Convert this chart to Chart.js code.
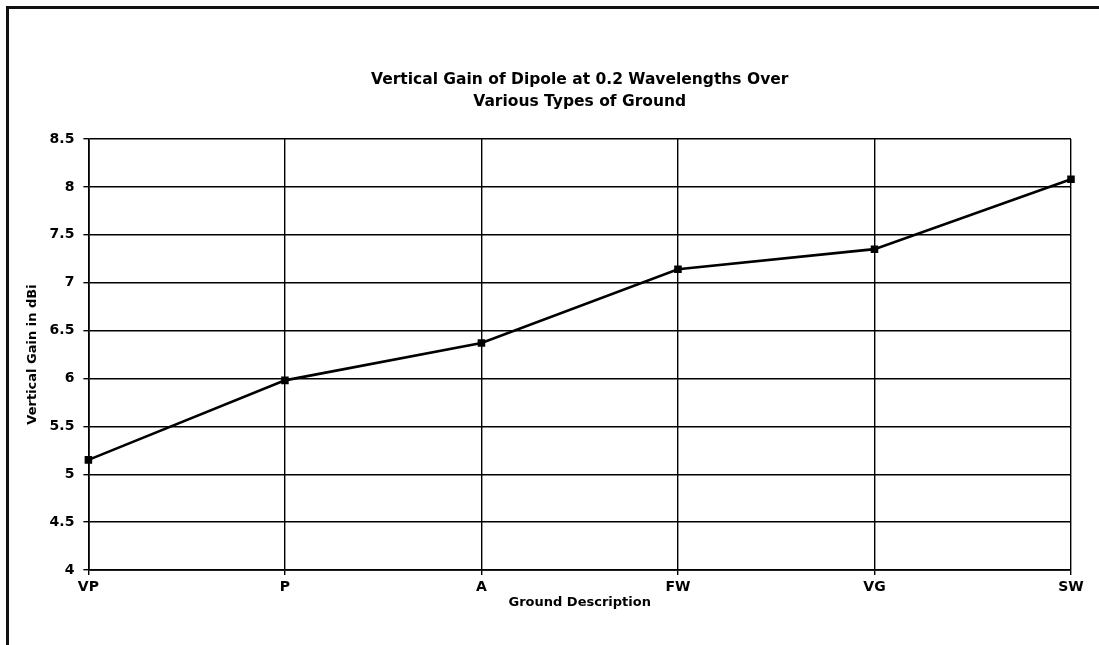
<!DOCTYPE html>
<html>
<head>
<meta charset="utf-8">
<script src="https://cdn.jsdelivr.net/npm/chart.js@4.4.1/dist/chart.umd.min.js"></script>
<style>
  html, body { margin: 0; padding: 0; background: #fff; }
  body { width: 1099px; height: 645px; position: relative; overflow: hidden; }
  #frame { position: absolute; left: 6px; top: 6px; width: 1093px; height: 639px;
           border-left: 3px solid #111; border-top: 3px solid #111; box-sizing: border-box; }
  #c { position: absolute; left: 0; top: 0; }
</style>
</head>
<body>
<div id="frame"><canvas id="c" width="1090" height="636"></canvas></div>
<script>
const categories = ["VP", "P", "A", "FW", "VG", "SW"];
const gainValues = [5.15, 5.98, 6.37, 7.14, 7.35, 8.08];
const titleLines = ["Vertical Gain of Dipole at 0.2 Wavelengths Over", "Various Types of Ground"];
const xAxisTitle = "Ground Description";
const yAxisTitle = "Vertical Gain in dBi";
const yTickLabels = ["4", "4.5", "5", "5.5", "6", "6.5", "7", "7.5", "8", "8.5"];
const yMin = 4, yMax = 8.5, yStep = 0.5;

const FONT = "'DejaVu Sans', 'Liberation Sans', Arial, sans-serif";

new Chart(document.getElementById('c'), {
  type: 'line',
  data: {
    labels: categories,
    datasets: [{
      label: yAxisTitle,
      data: gainValues,
      borderColor: '#000',
      backgroundColor: '#000',
      borderWidth: 2.6,
      pointStyle: 'rect',
      pointRadius: 3.5,
      pointBackgroundColor: '#000',
      pointBorderColor: '#000',
      tension: 0,
      fill: false
    }]
  },
  options: {
    responsive: false,
    animation: false,
    layout: { padding: { left: 16, right: 28, top: 0, bottom: 36 } },
    plugins: {
      legend: { display: false },
      tooltip: { enabled: false },
      title: {
        display: true,
        text: titleLines,
        fullSize: false,
        color: '#000',
        font: { family: FONT, size: 15.5, weight: 'bold', lineHeight: 1.42 },
        padding: { top: 60, bottom: 26 }
      }
    },
    scales: {
      x: {
        offset: false,
        grid: { color: '#000', lineWidth: 1.4, tickLength: 5, drawOnChartArea: true },
        border: { color: '#000', width: 1.7 },
        ticks: { color: '#000', font: { family: FONT, size: 14, weight: 'bold', lineHeight: 1 }, padding: 5, maxRotation: 0 },
        title: { display: true, text: xAxisTitle, color: '#000',
                 font: { family: FONT, size: 13, weight: 'bold', lineHeight: 1 }, padding: { top: -3, bottom: 0 } }
      },
      y: {
        min: yMin, max: yMax,
        grid: { color: '#000', lineWidth: 1.4, tickLength: 5 },
        border: { color: '#000', width: 1.7 },
        ticks: {
          stepSize: yStep, color: '#000', font: { family: FONT, size: 14, weight: 'bold' }, padding: 9,
          callback: (v, i) => yTickLabels[i]
        },
        title: { display: true, text: yAxisTitle, color: '#000',
                 font: { family: FONT, size: 13, weight: 'bold' }, padding: { top: 0, bottom: 0 } }
      }
    }
  }
});
</script>
</body>
</html>
